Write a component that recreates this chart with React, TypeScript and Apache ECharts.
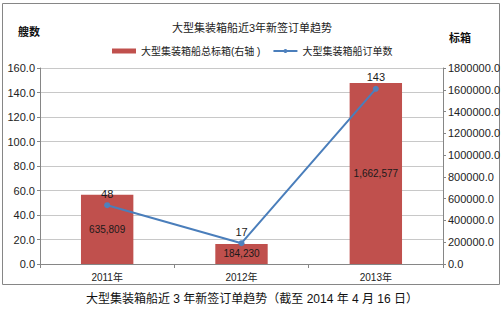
import React, { useEffect, useRef } from "react";
import * as echarts from "echarts";

const categories = ["2011年", "2012年", "2013年"];
const teuTotals = [635809, 184230, 1662577];
const orderCounts = [48, 17, 143];
const chartTitle = "大型集装箱船近3年新签订单趋势";
const caption = "大型集装箱船近 3 年新签订单趋势（截至 2014 年 4 月 16 日）";
const barName = "大型集装箱船总标箱(右轴 )";
const lineName = "大型集装箱船订单数";

const FONT = "'Liberation Sans', Arial, 'Noto Sans CJK SC', sans-serif";

export default function App() {
  const ref = useRef<HTMLDivElement>(null);
  useEffect(() => {
    if (!ref.current) return;
    const chart = echarts.init(ref.current, null, { renderer: "svg" });
    chart.setOption({
      animation: false,
      backgroundColor: "#ffffff",
      textStyle: { fontFamily: FONT },
      title: {
        text: chartTitle,
        left: "center",
        top: 17,
        textStyle: { fontSize: 11, fontWeight: "normal", color: "#222", fontFamily: FONT },
      },
      legend: {
        top: 41,
        left: 107,
        itemGap: 12,
        itemWidth: 24,
        itemHeight: 5,
        textStyle: { fontSize: 10, color: "#222", fontFamily: FONT },
        data: [
          { name: barName, icon: "rect" },
          { name: lineName },
        ],
      },
      grid: { left: 40, right: 61, top: 68, bottom: 52 },
      xAxis: {
        type: "category",
        data: categories,
        axisLine: { lineStyle: { color: "#868686" } },
        axisTick: { show: true, length: 4, lineStyle: { color: "#868686" } },
        axisLabel: { fontSize: 10, color: "#222", margin: 8, fontFamily: FONT },
      },
      yAxis: [
        {
          type: "value",
          min: 0,
          max: 160,
          interval: 20,
          position: "left",
          axisLine: { show: true, lineStyle: { color: "#868686" } },
          axisTick: { show: true, length: 3, lineStyle: { color: "#868686" } },
          axisLabel: {
            fontSize: 11,
            color: "#222",
            margin: 5,
            fontFamily: FONT,
            formatter: (v: number) => v.toFixed(1),
          },
          splitLine: { show: true, lineStyle: { color: "#c8c8c8" } },
        },
        {
          type: "value",
          min: 0,
          max: 1800000,
          interval: 200000,
          position: "right",
          axisLine: { show: true, lineStyle: { color: "#868686" } },
          axisTick: { show: true, length: 3, lineStyle: { color: "#868686" } },
          axisLabel: {
            fontSize: 11,
            color: "#222",
            margin: 5,
            fontFamily: FONT,
            formatter: (v: number) => v.toFixed(1),
          },
          splitLine: { show: false },
        },
      ],
      series: [
        {
          name: barName,
          type: "bar",
          yAxisIndex: 1,
          data: teuTotals,
          barWidth: "39%",
          itemStyle: { color: "#c0504d" },
          label: {
            show: true,
            position: "inside",
            fontSize: 10,
            color: "#1a1a1a",
            fontFamily: FONT,
            formatter: (p: any) => Number(p.value).toLocaleString("en-US"),
          },
        },
        {
          name: lineName,
          type: "line",
          yAxisIndex: 0,
          data: orderCounts,
          symbol: "circle",
          symbolSize: 6,
          lineStyle: { color: "#4a7ebb", width: 2 },
          itemStyle: { color: "#4f81bd" },
          label: {
            show: true,
            position: "top",
            distance: 3,
            fontSize: 11,
            color: "#1a1a1a",
            fontFamily: FONT,
          },
        },
      ],
      graphic: [
        {
          type: "rect",
          shape: { x: 2.5, y: 3.5, width: 497, height: 281 },
          style: { fill: "none", stroke: "#868686", lineWidth: 1 },
          silent: true,
        },
        {
          type: "text",
          left: 18,
          top: 26,
          style: { text: "艘数", fontSize: 11, fontWeight: "bold", fill: "#111", fontFamily: FONT },
        },
        {
          type: "text",
          left: 449,
          top: 32,
          style: { text: "标箱", fontSize: 11, fontWeight: "bold", fill: "#111", fontFamily: FONT },
        },
        {
          type: "text",
          left: "center",
          top: 293,
          style: { text: caption, fontSize: 12, fill: "#111", fontFamily: FONT },
        },
      ],
    });
    return () => chart.dispose();
  }, []);
  return (
    <div
      ref={ref}
      style={{ position: "fixed", left: 0, top: 0, width: 504, height: 316, background: "#fff" }}
    />
  );
}
